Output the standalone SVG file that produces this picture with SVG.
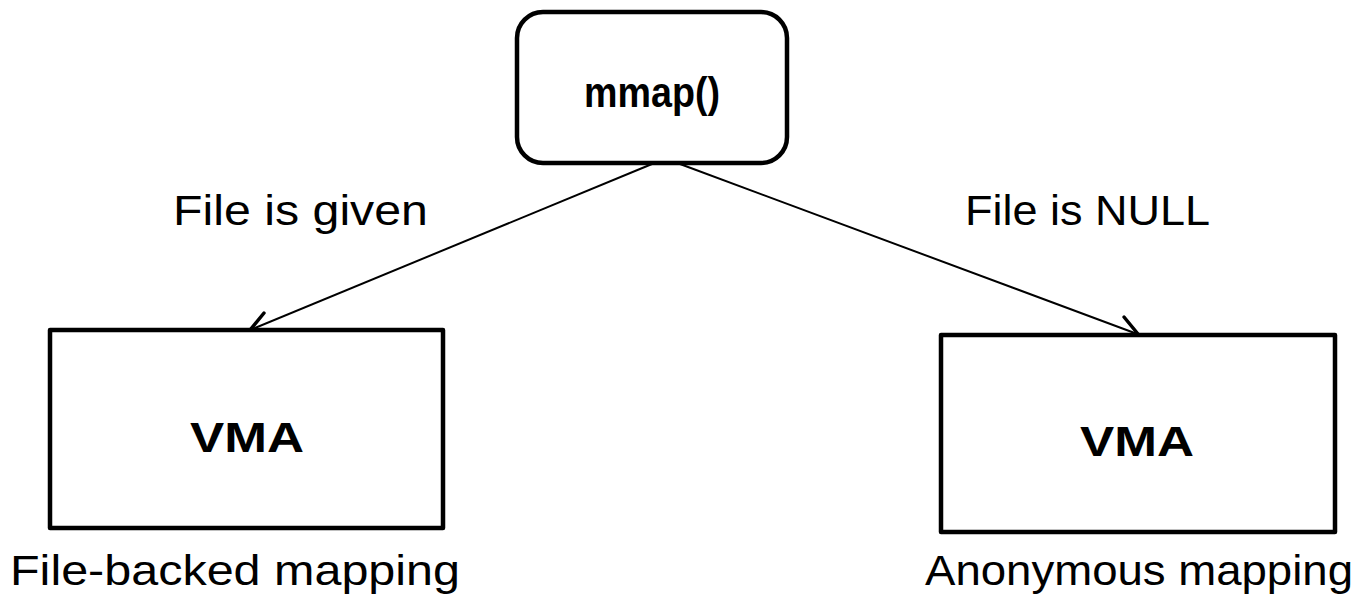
<svg xmlns="http://www.w3.org/2000/svg" width="1360" height="602" viewBox="0 0 1360 602">
<style>
.box{fill:#fff;stroke:#000;stroke-width:4.5;stroke-linejoin:round}
.t{font-family:"Liberation Sans",Arial,sans-serif;font-size:42px;fill:#000}
.b{font-weight:bold;text-anchor:middle}
.edge{stroke:#000;stroke-width:2;fill:none}
.head{stroke:#000;stroke-width:3.5;fill:none;stroke-linecap:round;stroke-linejoin:round}
</style>
<rect width="1360" height="602" fill="#fff"/>
<g id="connectors">
<line class="edge" x1="652" y1="164" x2="250" y2="330"/>
<polyline class="head" points="264,313 250,330 272,331"/>
<line class="edge" x1="680" y1="164" x2="1140" y2="335"/>
<polyline class="head" points="1124,317 1138,334 1116,338"/>
</g>
<g id="mmap">
<rect class="box" x="517" y="12" width="270" height="151" rx="26"/>
<text class="t b" x="652" y="107" font-size="44" textLength="136" lengthAdjust="spacingAndGlyphs">mmap()</text>
</g>
<g id="vma-file">
<rect class="box" x="50" y="330" width="393" height="198"/>
<text class="t b" x="247" y="452" font-size="58" textLength="114" lengthAdjust="spacingAndGlyphs">VMA</text>
</g>
<g id="vma-anon">
<rect class="box" x="941" y="335" width="394" height="197"/>
<text class="t b" x="1137" y="456" font-size="58" textLength="114" lengthAdjust="spacingAndGlyphs">VMA</text>
</g>
<g id="labels">
<text class="t" x="173" y="225" textLength="255" lengthAdjust="spacingAndGlyphs">File is given</text>
<text class="t" x="965" y="225" textLength="245" lengthAdjust="spacingAndGlyphs">File is NULL</text>
<text class="t" x="10" y="585" textLength="450" lengthAdjust="spacingAndGlyphs">File-backed mapping</text>
<text class="t" x="925" y="585" textLength="428" lengthAdjust="spacingAndGlyphs">Anonymous mapping</text>
</g>
</svg>
